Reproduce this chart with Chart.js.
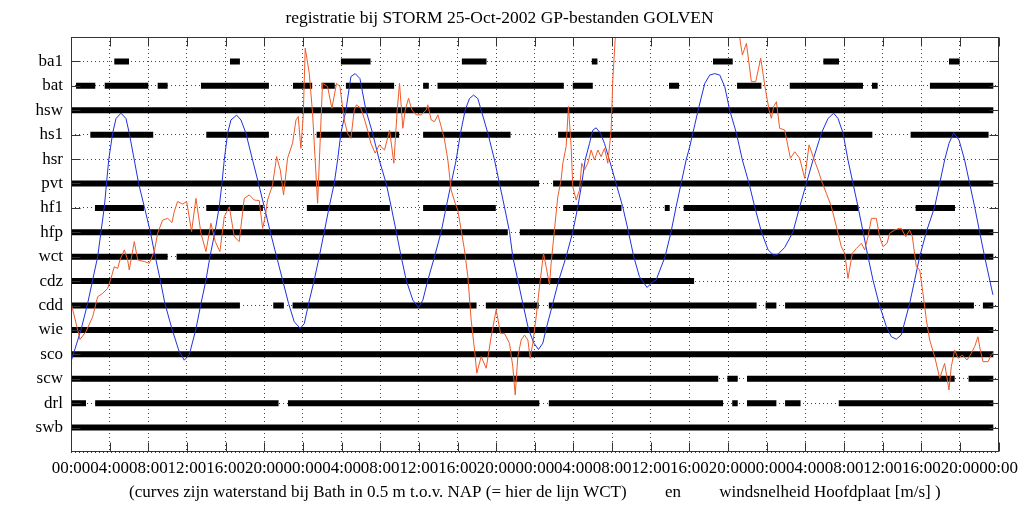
<!DOCTYPE html>
<html>
<head>
<meta charset="utf-8">
<script src="https://cdn.jsdelivr.net/npm/chart.js@4/dist/chart.umd.min.js"></script>
<style>
  html, body { margin: 0; padding: 0; background: #fff; }
</style>
</head>
<body>
<canvas id="chartStorm" width="1024" height="508"></canvas>
<script>
const rowNames = ['ba1', 'bat', 'hsw', 'hs1', 'hsr', 'pvt', 'hf1', 'hfp', 'wct', 'cdz', 'cdd', 'wie', 'sco', 'scw', 'drl', 'swb'];

// beschikbaarheid per rij: [begin, eind] in uren vanaf de start
const availability = [
  [[4.48, 6.0], [16.45, 17.48], [27.93, 31.0], [40.45, 43.0], [53.9, 54.48], [66.44, 68.48], [77.86, 79.48], [90.86, 91.97]],
  [[0.52, 2.51], [3.49, 8.0], [8.97, 10.0], [13.45, 20.48], [22.97, 24.96], [25.93, 27.3], [28.45, 33.44], [36.44, 37.03], [37.93, 51.0], [51.93, 54.0], [61.89, 62.93], [68.93, 71.45], [74.38, 81.96], [82.89, 83.48], [88.89, 95.45]],
  [[0, 95.45]],
  [[2.0, 8.51], [14.0, 20.48], [25.42, 33.96], [36.44, 45.49], [50.41, 82.93], [86.89, 94.96]],
  [],
  [[0, 48.44], [49.89, 95.45]],
  [[2.48, 7.55], [14.0, 19.86], [24.41, 33.0], [36.44, 43.96], [50.93, 56.97], [61.45, 61.96], [63.41, 81.48], [87.41, 91.48]],
  [[0, 45.2], [46.45, 95.45]],
  [[0, 10.0], [10.93, 95.45]],
  [[0, 64.48]],
  [[0, 17.48], [20.93, 22.03], [22.93, 41.97], [42.93, 48.4], [49.45, 70.95], [71.88, 73.0], [73.9, 93.44], [94.37, 95.45]],
  [[0, 95.45]],
  [[0, 95.45]],
  [[0, 66.98], [67.93, 69.0], [69.96, 91.45], [92.89, 95.45]],
  [[0, 1.55], [2.5, 21.48], [22.45, 48.46], [49.45, 67.48], [68.43, 69.0], [69.96, 73.0], [73.9, 75.5], [79.45, 95.45]],
  [[0, 95.45]]
];

// waterstand Bath [m t.o.v. NAP]: [uur, stand]
const tide = [
  [0, -2.15], [1.03, -1.5], [1.72, -0.96], [2.76, 0], [3.45, 1.02], [3.9, 1.98], [4.31, 2.53], [4.66, 2.83], [5.17, 2.94],
  [5.69, 2.83], [6.03, 2.53], [6.55, 1.98], [7.0, 1.5], [7.59, 1.02], [8.21, 0.51], [8.72, 0], [9.24, -0.48], [9.72, -0.96],
  [10.45, -1.48], [11.14, -1.91], [11.72, -2.12], [12.24, -2.01], [12.93, -1.48], [13.45, -0.96], [13.97, -0.48], [14.38, 0],
  [14.9, 0.51], [15.34, 1.02], [15.62, 1.5], [15.86, 1.98], [16.21, 2.53], [16.55, 2.8], [17.14, 2.9], [17.59, 2.8], [18.1, 2.53],
  [18.79, 1.98], [19.41, 1.5], [20.0, 1.02], [20.62, 0.51], [21.28, 0], [21.9, -0.48], [22.52, -0.96], [23.1, -1.33], [23.72, -1.47],
  [24.14, -1.37], [24.59, -0.96], [25.17, -0.48], [25.69, 0], [26.21, 0.51], [26.72, 1.02], [27.24, 1.5], [27.59, 1.98], [27.93, 2.53],
  [28.45, 3.0], [28.97, 3.69], [29.41, 3.75], [29.9, 3.65], [30.52, 3.0], [31.21, 2.53], [31.9, 1.98], [32.62, 1.5], [33.14, 1.02],
  [33.66, 0.51], [34.17, 0], [34.69, -0.48], [35.38, -0.89], [35.97, -1.04], [36.41, -0.89], [36.93, -0.48], [37.62, 0], [38.31, 0.51],
  [38.83, 1.02], [39.34, 1.5], [39.86, 1.98], [40.31, 2.53], [40.79, 3.0], [41.24, 3.24], [41.66, 3.31], [42.1, 3.24], [42.45, 3.0],
  [43.14, 2.53], [43.83, 1.98], [44.34, 1.5], [44.86, 1.02], [45.38, 0.51], [45.72, 0], [46.24, -0.48], [46.76, -0.96], [47.34, -1.48],
  [47.9, -1.77], [48.38, -1.9], [48.83, -1.77], [49.17, -1.48], [49.86, -0.96], [50.48, -0.48], [51.24, 0], [51.93, 0.51], [52.45, 1.02],
  [52.86, 1.5], [53.21, 1.98], [53.66, 2.32], [54.0, 2.59], [54.34, 2.64], [54.79, 2.53], [55.21, 2.32], [55.72, 1.98], [56.41, 1.5],
  [57.1, 1.02], [57.69, 0.51], [58.24, 0], [58.83, -0.41], [59.62, -0.63], [60.21, -0.51], [60.55, -0.48], [61.48, 0], [62.1, 0.51],
  [62.62, 1.02], [63.14, 1.5], [63.66, 1.98], [64.03, 2.25], [64.9, 3.0], [65.59, 3.55], [66.1, 3.72], [66.62, 3.75], [67.14, 3.72],
  [67.66, 3.48], [68.17, 3.0], [68.86, 2.53], [69.48, 1.98], [70.17, 1.5], [70.76, 1.02], [71.45, 0.51], [72.14, 0.14], [72.72, 0.03],
  [73.17, 0.05], [73.86, 0.19], [74.38, 0.38], [74.72, 0.51], [75.41, 1.02], [76.1, 1.5], [76.79, 1.98], [77.66, 2.53], [78.34, 2.83],
  [78.93, 2.94], [79.38, 2.83], [79.9, 2.53], [80.41, 1.98], [80.93, 1.5], [81.45, 1.02], [81.97, 0.51], [82.48, 0], [83.0, -0.48],
  [83.62, -0.96], [84.38, -1.43], [84.9, -1.64], [85.41, -1.69], [85.93, -1.6], [86.79, -0.96], [87.31, -0.48], [87.83, 0], [88.52, 0.51],
  [89.38, 1.02], [89.9, 1.5], [90.41, 1.98], [90.86, 2.32], [91.34, 2.54], [91.9, 2.39], [92.48, 1.98], [93.0, 1.5], [93.52, 1.02],
  [94.03, 0.51], [94.55, 0], [95.41, -0.78]
];

// windsnelheid Hoofdplaat [m/s]: [uur, snelheid]
const wind = [
  [0, 6.12], [0.93, 4.61], [1.55, 4.93], [2.24, 5.54], [2.76, 6.36], [3.28, 6.5], [3.79, 6.7], [4.14, 7.11], [4.48, 7.59], [4.83, 7.52],
  [5.07, 7.87], [5.52, 8.28], [5.86, 7.87], [6.03, 7.46], [6.55, 8.62], [6.9, 7.87], [7.59, 7.8], [8.1, 7.73], [8.62, 8.21], [8.97, 8.96],
  [9.48, 9.5], [10.0, 9.57], [10.45, 9.4], [10.69, 9.85], [11.03, 10.26], [11.55, 10.16], [11.97, 10.26], [12.48, 9.03], [12.93, 10.39],
  [13.45, 8.96], [13.97, 8.21], [14.48, 9.37], [14.93, 8.62], [15.41, 8.21], [15.86, 9.64], [16.38, 10.05], [16.9, 8.82], [17.41, 8.62],
  [17.93, 10.39], [18.45, 10.53], [18.97, 10.32], [19.48, 10.3], [19.83, 9.16], [20.1, 9.64], [20.34, 10.32], [20.86, 10.94], [21.28, 12.1],
  [21.66, 11.55], [22.0, 10.53], [22.41, 12.03], [22.93, 12.65], [23.28, 13.6], [23.52, 13.74], [23.79, 12.44], [24.03, 13.74], [24.24, 16.54],
  [24.66, 15.51], [25.0, 13.87], [25.52, 10.19], [26.03, 15.1], [26.55, 14.97], [27.0, 14.08], [27.48, 15.1], [27.83, 14.97], [28.28, 13.6],
  [28.62, 13.05], [28.97, 12.85], [29.31, 14.01], [29.55, 14.22], [30.0, 14.08], [30.34, 13.67], [30.69, 13.19], [31.03, 12.65], [31.48, 12.24],
  [31.9, 12.58], [32.45, 12.37], [32.97, 13.19], [33.41, 11.83], [33.76, 14.01], [34.0, 15.1], [34.34, 13.26], [34.59, 14.01], [34.93, 14.49],
  [35.28, 14.01], [35.72, 13.81], [36.24, 13.81], [36.76, 14.01], [36.93, 14.22], [37.28, 13.6], [37.62, 13.53], [37.97, 13.81], [38.31, 13.33],
  [38.66, 12.78], [39.0, 11.96], [39.34, 10.73], [39.76, 10.19], [40.03, 9.91], [40.38, 9.09], [40.72, 8.28], [41.07, 7.18], [41.41, 5.41],
  [41.76, 4.18], [42.0, 3.23], [42.45, 3.91], [42.97, 3.43], [43.48, 4.72], [44.0, 5.82], [44.45, 4.86], [44.86, 4.86], [45.38, 4.45],
  [45.72, 3.5], [45.97, 2.34], [46.24, 3.91], [46.59, 4.59], [46.93, 4.79], [47.28, 4.59], [47.52, 3.84], [47.79, 4.45], [48.14, 5.54],
  [48.48, 6.77], [48.9, 8.14], [49.17, 7.59], [49.52, 6.84], [49.69, 7.73], [50.03, 9.09], [50.38, 10.46], [50.72, 11.14], [50.9, 11.83],
  [51.24, 12.51], [51.48, 14.15], [51.76, 12.51], [51.93, 10.87], [52.28, 10.32], [52.62, 10.73], [52.86, 11.83], [53.14, 11.55], [53.48, 11.83],
  [53.83, 12.37], [54.17, 11.96], [54.52, 12.37], [54.86, 12.1], [55.21, 12.44], [55.55, 11.83], [55.9, 13.19], [56.07, 15.24], [56.31, 16.88],
  [56.59, 18.1], [58.0, 20.5], [61.0, 22.0], [64.0, 21.0], [67.0, 19.5], [68.6, 17.8],
  [69.21, 16.95], [69.48, 16.26], [69.9, 16.74], [70.41, 15.17], [70.86, 15.17], [71.38, 16.13], [71.79, 15.03], [72.24, 14.01], [72.48, 13.67],
  [72.72, 14.15], [73.0, 14.35], [73.34, 13.26], [73.86, 13.19], [74.45, 12.03], [74.9, 12.3], [75.41, 12.03], [75.93, 11.21], [76.38, 12.58],
  [76.86, 12.03], [77.31, 11.55], [77.76, 11.01], [78.17, 10.6], [78.69, 10.05], [79.21, 9.23], [79.72, 8.41], [80.07, 8.14], [80.41, 7.11],
  [80.86, 8.14], [81.28, 8.34], [81.79, 8.55], [82.14, 8.28], [82.48, 8.82], [82.83, 9.57], [83.34, 9.57], [83.69, 8.82], [84.03, 8.41],
  [84.45, 8.55], [84.72, 8.96], [85.24, 9.09], [85.69, 9.16], [85.93, 9.16], [86.38, 8.82], [86.79, 9.09], [87.07, 8.82], [87.48, 7.59],
  [87.83, 7.46], [88.17, 6.5], [88.52, 5.41], [88.86, 4.59], [89.38, 3.91], [89.9, 3.02], [90.41, 3.63], [90.86, 2.54], [91.1, 3.5],
  [91.45, 4.18], [91.79, 3.84], [92.24, 3.97], [92.72, 3.77], [93.17, 4.04], [93.52, 4.32], [93.86, 4.72], [94.1, 4.18], [94.38, 3.7],
  [94.9, 3.7], [95.24, 3.97], [95.41, 4.07]
];

const titleText = 'registratie bij STORM 25-Oct-2002 GP-bestanden GOLVEN';
const captionText = '(curves zijn waterstand bij Bath in 0.5 m t.o.v. NAP (= hier de lijn WCT)         en         windsnelheid Hoofdplaat [m/s] )';

Chart.defaults.font.family = '"Liberation Serif", "Times New Roman", serif';
Chart.defaults.color = '#000';

const barSets = rowNames.map((name, i) => {
  const pts = [];
  availability[i].forEach(([s, e]) => {
    pts.push({ x: s, y: i + 1 }, { x: e, y: i + 1 }, { x: e, y: null });
  });
  return {
    label: name,
    data: pts,
    yAxisID: 'y',
    borderColor: '#000',
    borderWidth: 6,
    borderCapStyle: 'butt',
    pointRadius: 0,
    spanGaps: false,
  };
});

// inwaartse streepjes en kader rond het plotgebied
const frame = {
  id: 'frame',
  afterDatasetsDraw(chart) {
    const { ctx, chartArea, scales } = chart;
    const l = Math.round(chartArea.left) + 0.5;
    const r = Math.round(chartArea.right) - 0.5;
    const t = Math.round(chartArea.top) + 0.5;
    const b = Math.round(chartArea.bottom) - 0.5;
    ctx.save();
    ctx.strokeStyle = '#333';
    ctx.lineWidth = 1;
    ctx.beginPath();
    scales.x.ticks.forEach(tk => {
      const px = Math.round(scales.x.getPixelForValue(tk.value)) + 0.5;
      ctx.moveTo(px, b); ctx.lineTo(px, b - 9);
      ctx.moveTo(px, t); ctx.lineTo(px, t + 9);
    });
    scales.y.ticks.forEach(tk => {
      if (tk.value < 1 || tk.value > rowNames.length) return;
      const py = Math.round(scales.y.getPixelForValue(tk.value)) + 0.5;
      ctx.moveTo(l, py); ctx.lineTo(l + 9, py);
      ctx.moveTo(r, py); ctx.lineTo(r - 9, py);
    });
    ctx.stroke();
    ctx.strokeRect(l, t, r - l, b - t);
    ctx.restore();
  }
};

const pad2 = n => String(n).padStart(2, '0');

new Chart(document.getElementById('chartStorm'), {
  type: 'line',
  data: {
    datasets: [
      {
        label: 'wind',
        data: wind.map(([h, v]) => ({ x: h, y: v })),
        yAxisID: 'yWind',
        borderColor: '#f05a28',
        borderWidth: 1,
        pointRadius: 0,
      },
      {
        label: 'tide',
        data: tide.map(([h, v]) => ({ x: h, y: v })),
        yAxisID: 'yLevel',
        borderColor: '#2030e0',
        borderWidth: 1,
        pointRadius: 0,
      },
      ...barSets
    ]
  },
  options: {
    responsive: false,
    animation: false,
    layout: { padding: { left: 0, right: 25, top: 0, bottom: 0 } },
    plugins: {
      legend: { display: false },
      tooltip: { enabled: false },
      title: {
        display: true,
        text: titleText,
        color: '#000',
        font: { size: 17.5, weight: 'normal' },
        padding: { top: 8, bottom: 8 }
      }
    },
    scales: {
      x: {
        type: 'linear',
        min: 0,
        max: 96,
        ticks: {
          stepSize: 4,
          autoSkip: false,
          maxRotation: 0,
          padding: 6,
          font: { size: 17 },
          callback: v => pad2(v % 24) + ':00'
        },
        grid: { color: '#444', drawTicks: false },
        border: { display: false, dash: [1, 3] },
        title: {
          display: true,
          text: captionText,
          font: { size: 17 },
          padding: { top: 0, bottom: 5 }
        },
        afterFit: s => { s.height = 56; }
      },
      y: {
        type: 'linear',
        min: 0,
        max: 17,
        reverse: true,
        ticks: {
          stepSize: 1,
          autoSkip: false,
          padding: 8,
          font: { size: 17 },
          callback: v => rowNames[v - 1] || ''
        },
        grid: { color: '#444', drawTicks: false },
        border: { display: false, dash: [1, 3] },
        afterFit: s => { s.width = 71; }
      },
      yLevel: { type: 'linear', display: false, min: -4, max: 4.5 },
      yWind: { type: 'linear', display: false, min: 0, max: 17 }
    }
  },
  plugins: [frame]
});
</script>
</body>
</html>
